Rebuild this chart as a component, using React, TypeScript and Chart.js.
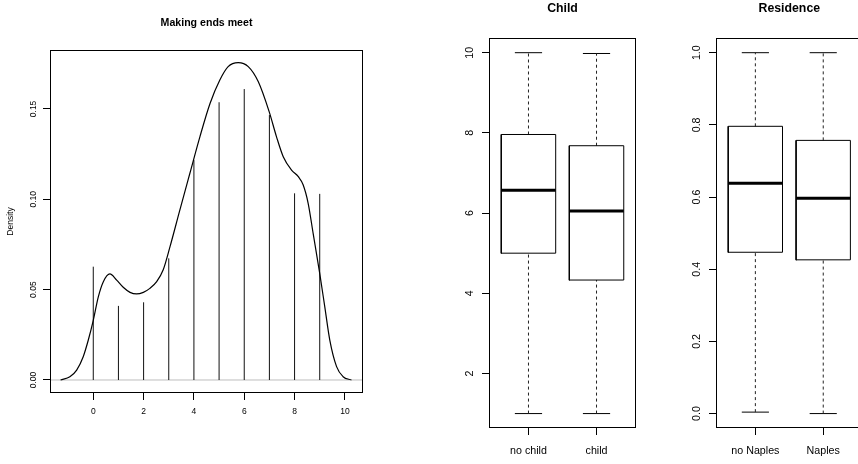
import React, { useEffect, useRef } from "react";
import { Chart, registerables } from "chart.js";

Chart.register(...registerables);

const FONT = "'Liberation Sans', Arial, Helvetica, sans-serif";

// ---------- Panel 1: density of "Making ends meet" ----------
const densityX = [-1.3, -0.93, -0.66, -0.4, -0.2, 0, 0.2, 0.4, 0.66, 0.93, 1.19, 1.46, 1.72, 1.99, 2.25, 2.52, 2.78, 3.05, 3.44, 3.84, 4.24, 4.64, 5.03, 5.36, 5.76, 6.16, 6.56, 6.99, 7.28, 7.55, 7.88, 8.15, 8.34, 8.54, 8.74, 9.0, 9.2, 9.4, 9.67, 9.93, 10.26];
const densityY = [0, 0.0018, 0.0055, 0.0129, 0.022, 0.033, 0.046, 0.0544, 0.0587, 0.0553, 0.0513, 0.0485, 0.0476, 0.0485, 0.0507, 0.0544, 0.061, 0.0738, 0.094, 0.1144, 0.1347, 0.153, 0.166, 0.1734, 0.1756, 0.1734, 0.165, 0.1485, 0.1347, 0.1236, 0.1162, 0.1125, 0.108, 0.0978, 0.081, 0.059, 0.0406, 0.0221, 0.0074, 0.0018, 0];
const spikeX = [0, 1, 2, 3, 4, 5, 6, 7, 8, 9];
const spikeY = [0.0627, 0.041, 0.043, 0.0673, 0.1217, 0.1537, 0.161, 0.1466, 0.1033, 0.103];
const densityXTicks = [0, 2, 4, 6, 8, 10];
const densityYTicks = [0, 0.05, 0.1, 0.15];
const densityXRange = [-1.72, 10.72];
const densityYRange = [-0.0072, 0.1826];

// ---------- Panel 2: Child ----------
const childCategories = ["no child", "child"];
const childMin = [1.0, 1.0];
const childQ1 = [5.0, 4.33];
const childMedian = [6.57, 6.05];
const childQ3 = [7.96, 7.68];
const childMax = [10.0, 9.98];
const childTicks = [2, 4, 6, 8, 10];
const childRange = [0.64, 10.36];

// ---------- Panel 3: Residence ----------
const residenceCategories = ["no Naples", "Naples"];
const residenceMin = [0.004, 0.0];
const residenceQ1 = [0.447, 0.426];
const residenceMedian = [0.638, 0.597];
const residenceQ3 = [0.796, 0.757];
const residenceMax = [1.0, 1.0];
const residenceTicks = [0, 0.2, 0.4, 0.6, 0.8, 1.0];
const residenceRange = [-0.04, 1.04];

const boxXRange = [0.42, 2.58];

const framePlugin = {
  id: "rframe",
  afterDraw(chart: any) {
    const { ctx, chartArea: a } = chart;
    ctx.save();
    ctx.strokeStyle = "#000";
    ctx.lineWidth = 1;
    const l = Math.round(a.left) + 0.5;
    const t = Math.round(a.top) + 0.5;
    const r = Math.round(a.right) - 0.5;
    const b = Math.round(a.bottom) - 0.5;
    ctx.strokeRect(l, t, r - l, b - t);
    ctx.restore();
  },
};

function xAxis(opts: any) {
  return {
    type: "linear",
    min: opts.min,
    max: opts.max,
    afterBuildTicks: (s: any) => {
      s.ticks = opts.ticks.map((v: number) => ({ value: v }));
    },
    afterFit: (s: any) => {
      s.height = opts.height;
    },
    grid: { drawOnChartArea: false, drawTicks: true, tickLength: 7, color: "#000", lineWidth: 1 },
    border: { display: false },
    ticks: {
      autoSkip: false,
      maxRotation: 0,
      minRotation: 0,
      padding: opts.pad,
      color: "#000",
      font: { family: FONT, size: opts.size },
      callback: opts.fmt,
    },
  };
}

function yAxis(opts: any) {
  return {
    type: "linear",
    min: opts.min,
    max: opts.max,
    afterBuildTicks: (s: any) => {
      s.ticks = opts.ticks.map((v: number) => ({ value: v }));
    },
    afterFit: (s: any) => {
      s.width = opts.width;
    },
    grid: { drawOnChartArea: false, drawTicks: true, tickLength: 7, color: "#000", lineWidth: 1 },
    border: { display: false },
    title: opts.title
      ? {
          display: true,
          text: opts.title,
          color: "#000",
          font: { family: FONT, size: opts.size },
          padding: { top: 6, bottom: 0 },
        }
      : { display: false },
    ticks: {
      autoSkip: false,
      minRotation: 90,
      maxRotation: 90,
      crossAlign: "center",
      padding: opts.pad,
      color: "#000",
      font: { family: FONT, size: opts.size },
      callback: opts.fmt,
    },
  };
}

function titleOpts(text: string, size: number, top: number, bottom: number) {
  return {
    display: true,
    text,
    fullSize: false,
    color: "#000",
    font: { family: FONT, size, weight: "bold" },
    padding: { top, bottom },
  };
}

function densityConfig(): any {
  const curve = densityX.map((x, i) => ({ x, y: densityY[i] }));
  const spikes: any[] = [];
  spikeX.forEach((x, i) => {
    spikes.push({ x, y: 0 }, { x, y: spikeY[i] }, { x, y: null });
  });
  const zero = [
    { x: densityXRange[0], y: 0 },
    { x: densityXRange[1], y: 0 },
  ];
  return {
    type: "line",
    data: {
      datasets: [
        { data: curve, borderColor: "#000", borderWidth: 1.2, pointRadius: 0, cubicInterpolationMode: "monotone", fill: false },
        { data: spikes, borderColor: "#111", borderWidth: 1, pointRadius: 0, spanGaps: false, fill: false },
        { data: zero, borderColor: "#bebebe", borderWidth: 1, pointRadius: 0, fill: false },
      ],
    },
    options: {
      responsive: false,
      animation: false,
      events: [],
      layout: { padding: { left: 0, right: 57, top: 0, bottom: 0 } },
      plugins: {
        legend: { display: false },
        tooltip: { enabled: false },
        title: titleOpts("Making ends meet", 10.6, 17, 20.3),
      },
      scales: {
        x: xAxis({ min: densityXRange[0], max: densityXRange[1], ticks: densityXTicks, height: 71, pad: 7, size: 8.5, fmt: (v: number) => String(v) }),
        y: yAxis({ min: densityYRange[0], max: densityYRange[1], ticks: densityYTicks, width: 50, pad: 1.4, size: 8.5, fmt: (v: number) => v.toFixed(2), title: "Density" }),
      },
    },
    plugins: [framePlugin],
  };
}

function boxConfig(
  title: string,
  categories: string[],
  mins: number[],
  q1s: number[],
  meds: number[],
  q3s: number[],
  maxs: number[],
  yRange: number[],
  yTicks: number[],
  yFmt: (v: number) => string,
  yWidth: number,
  rightPad: number,
  yPad: number
): any {
  const HW = 0.4;
  const CW = 0.2;
  const boxPts: any[] = [];
  const medPts: any[] = [];
  const whiskPts: any[] = [];
  const capPts: any[] = [];
  categories.forEach((_, i) => {
    const c = i + 1;
    boxPts.push(
      { x: c - HW, y: q1s[i] },
      { x: c + HW, y: q1s[i] },
      { x: c + HW, y: q3s[i] },
      { x: c - HW, y: q3s[i] },
      { x: c - HW, y: q1s[i] },
      { x: c, y: null }
    );
    medPts.push({ x: c - HW, y: meds[i] }, { x: c + HW, y: meds[i] }, { x: c, y: null });
    whiskPts.push(
      { x: c, y: q3s[i] },
      { x: c, y: maxs[i] },
      { x: c, y: null },
      { x: c, y: mins[i] },
      { x: c, y: q1s[i] },
      { x: c, y: null }
    );
    capPts.push(
      { x: c - CW, y: maxs[i] },
      { x: c + CW, y: maxs[i] },
      { x: c, y: null },
      { x: c - CW, y: mins[i] },
      { x: c + CW, y: mins[i] },
      { x: c, y: null }
    );
  });
  return {
    type: "line",
    data: {
      datasets: [
        { data: medPts, borderColor: "#000", borderWidth: 3, pointRadius: 0, fill: false, borderCapStyle: "butt" },
        { data: boxPts, borderColor: "#000", borderWidth: 1, pointRadius: 0, fill: false, borderJoinStyle: "miter", borderCapStyle: "square" },
        { data: whiskPts, borderColor: "#222", borderWidth: 1, borderDash: [3, 3], pointRadius: 0, fill: false },
        { data: capPts, borderColor: "#000", borderWidth: 1, pointRadius: 0, fill: false },
      ],
    },
    options: {
      responsive: false,
      animation: false,
      events: [],
      layout: { padding: { left: 0, right: rightPad, top: 0, bottom: 0 } },
      plugins: {
        legend: { display: false },
        tooltip: { enabled: false },
        title: titleOpts(title, 12.3, 0.9, 22.6),
      },
      scales: {
        x: xAxis({ min: boxXRange[0], max: boxXRange[1], ticks: [1, 2], height: 36, pad: 10, size: 10.7, fmt: (v: number) => categories[Math.round(v) - 1] }),
        y: yAxis({ min: yRange[0], max: yRange[1], ticks: yTicks, width: yWidth, pad: yPad, size: 10.7, fmt: yFmt }),
      },
    },
    plugins: [framePlugin],
  };
}

function ChartCanvas({ left, width, make }: { left: number; width: number; make: () => any }) {
  const ref = useRef<HTMLCanvasElement>(null);
  useEffect(() => {
    const chart = new Chart(ref.current as HTMLCanvasElement, make());
    return () => chart.destroy();
  }, []);
  return (
    <div style={{ position: "absolute", left, top: 0, width, height: 464 }}>
      <canvas ref={ref} width={width} height={464} style={{ display: "block" }} />
    </div>
  );
}

export default function App() {
  return (
    <div style={{ position: "fixed", left: 0, top: 0, width: 858, height: 464, overflow: "hidden", background: "#fff" }}>
      <ChartCanvas left={0} width={420} make={densityConfig} />
      <ChartCanvas
        left={420}
        width={230}
        make={() =>
          boxConfig("Child", childCategories, childMin, childQ1, childMedian, childQ3, childMax, childRange, childTicks, (v) => String(v), 69, 14, 6.3)
        }
      />
      <ChartCanvas
        left={650}
        width={230}
        make={() =>
          boxConfig("Residence", residenceCategories, residenceMin, residenceQ1, residenceMedian, residenceQ3, residenceMax, residenceRange, residenceTicks, (v) => v.toFixed(1), 66, 17.4, 4.3)
        }
      />
    </div>
  );
}
